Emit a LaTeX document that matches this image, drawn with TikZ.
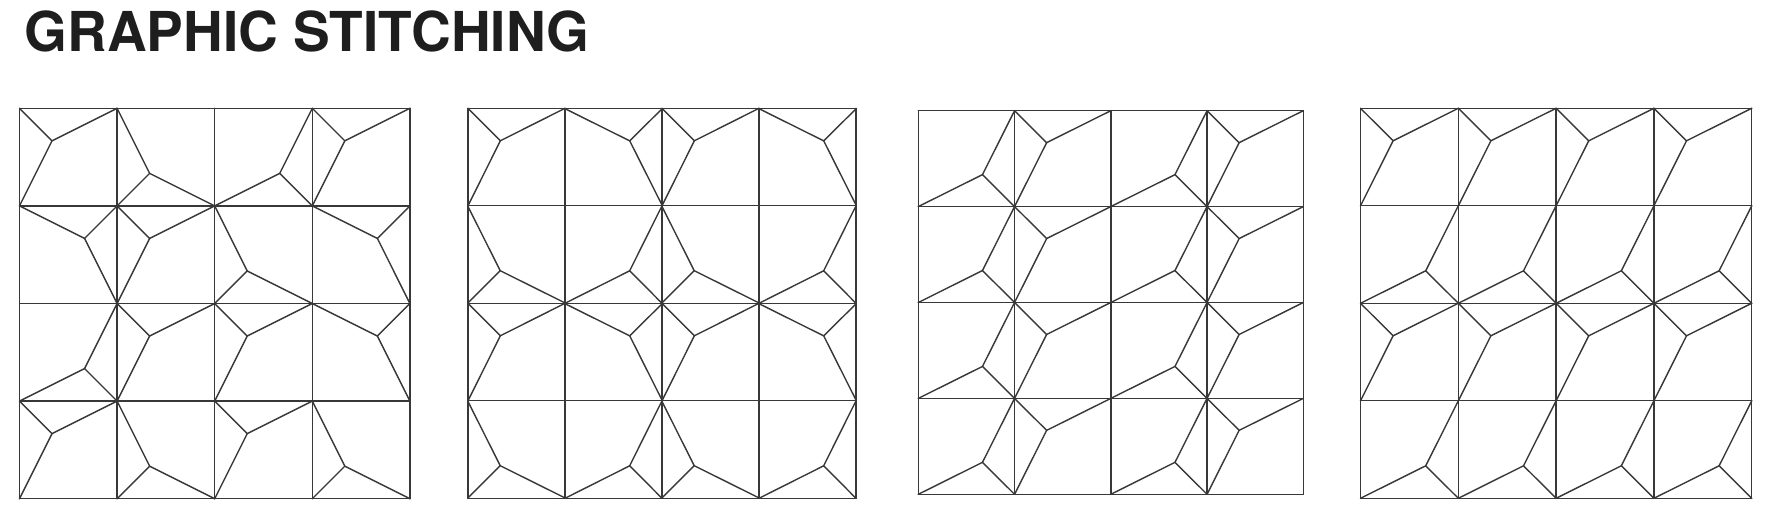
\documentclass[tikz,border=0pt]{standalone}
\usepackage{fontspec}
\setmainfont{TeX Gyre Heros}
\definecolor{ink}{HTML}{383838}
\definecolor{titleink}{HTML}{1E1E1E}
\tikzset{
  stitch/.style={draw=ink, line width=1.4pt, line join=round, line cap=round},
  titletext/.style={anchor=base west, inner sep=0pt, text=titleink, font=\fontsize{55}{55}\selectfont\bfseries}
}
% one tile motif: column, row (from top), rotation of the short arm (0 = top left corner)
\newcommand\stitchtile[3]{%
  \begin{scope}[shift={(#1+0.5,3.5-#2)}, rotate=#3]
    \draw[stitch] (-0.5,0.5) -- (-0.16667,0.16667) -- (0.5,0.5);
    \draw[stitch] (-0.16667,0.16667) -- (-0.5,-0.5);
  \end{scope}}
% grid of 4 x 4
\newcommand\stitchgrid{%
  \foreach \k in {0,1,2,3,4} {
    \draw[stitch] (\k,0) -- (\k,4);
    \draw[stitch] (0,\k) -- (4,\k);
  }}
\begin{document}
\begin{tikzpicture}[x=1pt, y=1pt]
\useasboundingbox (0,0) rectangle (1787,530);
\fill[white] (0,0) rectangle (1787,530);
\node[titletext] (title) at (24.3,478.3) {GRAPHIC STITCHING};

% panel 1
\begin{scope}[shift={(19.5,31.3)}, x=97.6pt, y=97.6pt]
  \stitchgrid
  \foreach \c/\r/\a in {0/0/0,1/0/90,2/0/180,3/0/0,
                        0/1/270,1/1/0,2/1/90,3/1/270,
                        0/2/180,1/2/0,2/2/0,3/2/270,
                        0/3/0,1/3/90,2/3/0,3/3/90}
    {\stitchtile{\c}{\r}{\a}}
\end{scope}

% panel 2
\begin{scope}[shift={(468,31.7)}, x=97pt, y=97.5pt]
  \stitchgrid
  \foreach \c/\r/\a in {0/0/0,1/0/270,2/0/0,3/0/270,
                        0/1/90,1/1/180,2/1/90,3/1/180,
                        0/2/0,1/2/270,2/2/0,3/2/270,
                        0/3/90,1/3/180,2/3/90,3/3/180}
    {\stitchtile{\c}{\r}{\a}}
\end{scope}

% panel 3
\begin{scope}[shift={(918.3,35.7)}, x=96.25pt, y=95.9pt]
  \stitchgrid
  \foreach \r in {0,1,2,3}
    \foreach \c/\a in {0/180,1/0,2/180,3/0}
      {\stitchtile{\c}{\r}{\a}}
\end{scope}

% panel 4
\begin{scope}[shift={(1360.5,31.7)}, x=97.8pt, y=97.5pt]
  \stitchgrid
  \foreach \c in {0,1,2,3}
    \foreach \r/\a in {0/0,1/180,2/0,3/180}
      {\stitchtile{\c}{\r}{\a}}
\end{scope}
\end{tikzpicture}
\end{document}
